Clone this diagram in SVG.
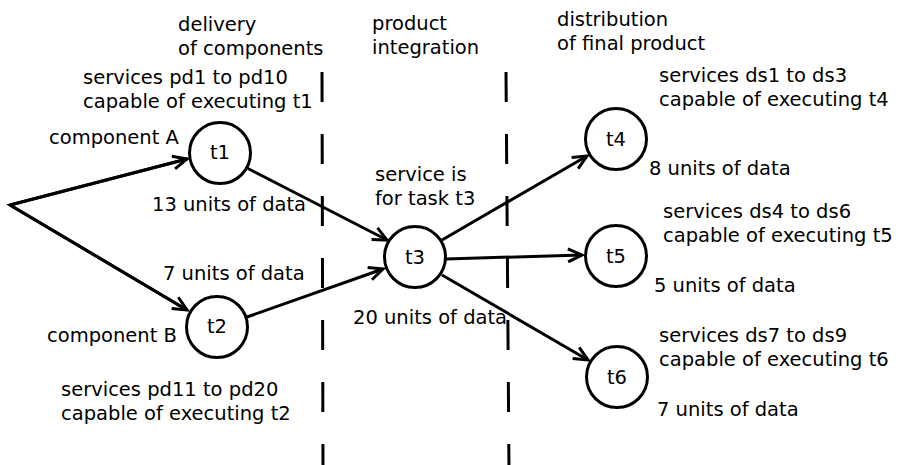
<svg xmlns="http://www.w3.org/2000/svg" width="898" height="465" viewBox="0 0 898 465">
<style>
text{font-family:"DejaVu Sans","Liberation Sans",sans-serif;font-size:19.5px;fill:#000}
.c{text-anchor:middle}
circle{fill:#fff;stroke:#000;stroke-width:3}
.e{fill:none;stroke:#000;stroke-width:3}
.d{fill:none;stroke:#000;stroke-width:3;stroke-dasharray:30 32}
</style>
<defs>
<marker id="arr" viewBox="0 0 16 14" refX="15" refY="7" markerWidth="16" markerHeight="14" markerUnits="userSpaceOnUse" orient="auto" overflow="visible">
<path d="M1,0.5 L15,7 L1,13.5" fill="none" stroke="#000" stroke-width="3"/>
</marker>
</defs>
<rect width="898" height="465" fill="#fff"/>
<g id="phases">
<line class="d" x1="322" y1="72" x2="323" y2="470"/>
<line class="d" x1="506" y1="72" x2="509" y2="470"/>
<text x="178" y="31">delivery</text>
<text x="178" y="55">of components</text>
<text x="372" y="30">product</text>
<text x="372" y="54">integration</text>
<text x="557" y="26">distribution</text>
<text x="557" y="50">of final product</text>
</g>
<g id="connectors">
<path class="e" d="M187,159 L10,205 L187,310"/>
<line class="e" x1="10" y1="205" x2="187" y2="310" marker-end="url(#arr)"/>
<line class="e" x1="10" y1="205" x2="187" y2="159" marker-end="url(#arr)"/>
<line class="e" x1="247" y1="168" x2="387" y2="240" marker-end="url(#arr)"/>
<line class="e" x1="247" y1="317" x2="383" y2="269" marker-end="url(#arr)"/>
<line class="e" x1="442" y1="240" x2="587" y2="156" marker-end="url(#arr)"/>
<line class="e" x1="446" y1="259" x2="582" y2="255" marker-end="url(#arr)"/>
<line class="e" x1="442" y1="275" x2="588" y2="360" marker-end="url(#arr)"/>
</g>
<g id="t1">
<circle cx="220" cy="153" r="30.5"/>
<text class="c" x="220" y="159">t1</text>
<text x="83" y="84">services pd1 to pd10</text>
<text x="83" y="108">capable of executing t1</text>
<text x="49" y="144">component A</text>
<text x="152" y="211">13 units of data</text>
</g>
<g id="t2">
<circle cx="217" cy="327" r="30.5"/>
<text class="c" x="217" y="333">t2</text>
<text x="163" y="280">7 units of data</text>
<text x="47" y="342">component B</text>
<text x="61" y="396">services pd11 to pd20</text>
<text x="61" y="420">capable of executing t2</text>
</g>
<g id="t3">
<circle cx="415" cy="257" r="30.5"/>
<text class="c" x="415" y="264">t3</text>
<text x="375" y="181">service is</text>
<text x="375" y="205">for task t3</text>
<text x="353" y="324">20 units of data</text>
</g>
<g id="t4">
<circle cx="616" cy="139" r="30.5"/>
<text class="c" x="616" y="146">t4</text>
<text x="659" y="82">services ds1 to ds3</text>
<text x="659" y="106">capable of executing t4</text>
<text x="649" y="175">8 units of data</text>
</g>
<g id="t5">
<circle cx="616" cy="256" r="30.5"/>
<text class="c" x="616" y="263">t5</text>
<text x="663" y="218">services ds4 to ds6</text>
<text x="663" y="242">capable of executing t5</text>
<text x="654" y="292">5 units of data</text>
</g>
<g id="t6">
<circle cx="617" cy="377" r="30.5"/>
<text class="c" x="617" y="384">t6</text>
<text x="659" y="342">services ds7 to ds9</text>
<text x="659" y="366">capable of executing t6</text>
<text x="657" y="416">7 units of data</text>
</g>
</svg>
